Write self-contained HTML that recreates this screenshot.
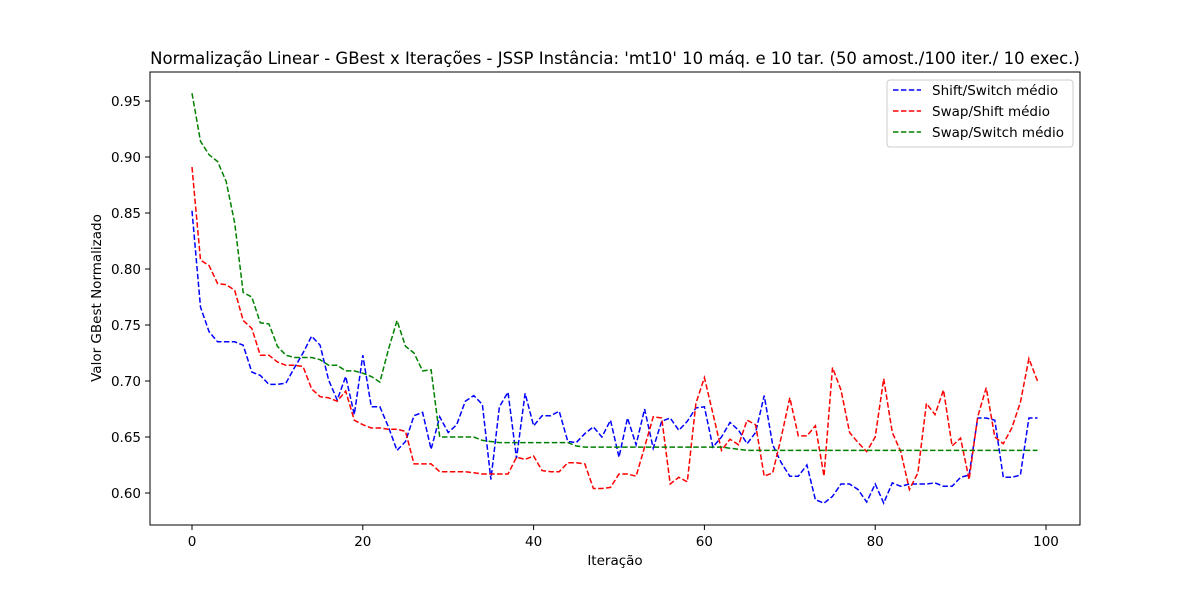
<!DOCTYPE html>
<html><head><meta charset="utf-8"><style>
html,body{margin:0;padding:0;background:#fff;}
svg text{font-family:"DejaVu Sans","Liberation Sans",sans-serif;fill:#000;}
</style></head><body>
<svg id="chart" width="1200" height="600" xmlns="http://www.w3.org/2000/svg">
<rect x="0" y="0" width="1200" height="600" fill="#fff"/>
<text x="615" y="64" font-size="16.5" text-anchor="middle">Normalização Linear - GBest x Iterações - JSSP Instância: 'mt10' 10 máq. e 10 tar. (50 amost./100 iter./ 10 exec.)</text>
<g id="xticks"></g>
<g id="yticks"></g>
<g id="series"></g>
<rect x="150" y="72" width="930" height="453" fill="none" stroke="#000" stroke-width="1"/>
<text x="615" y="565" font-size="13.5" text-anchor="middle">Iteração</text>
<text transform="translate(101,298) rotate(-90)" font-size="13.5" text-anchor="middle">Valor GBest Normalizado</text>
<g>
<rect x="887" y="80" width="186" height="67" rx="3" fill="#fff" stroke="#ccc"/>
<g><line x1="893" y1="90" x2="921" y2="90" stroke="blue" stroke-width="1.5" stroke-dasharray="5.5,2.4"/><text x="932" y="95" font-size="13.5">Shift/Switch médio</text></g>
<g><line x1="893" y1="111" x2="921" y2="111" stroke="red" stroke-width="1.5" stroke-dasharray="5.5,2.4"/><text x="932" y="116" font-size="13.5">Swap/Shift médio</text></g>
<g><line x1="893" y1="132" x2="921" y2="132" stroke="green" stroke-width="1.5" stroke-dasharray="5.5,2.4"/><text x="932" y="137" font-size="13.5">Swap/Switch médio</text></g>
</g>
</svg>
<script>
const xTicks=[0,20,40,60,80,100];
const yTicks=[0.60,0.65,0.70,0.75,0.80,0.85,0.90,0.95];
const shiftSwitch=[0.852,0.766,0.744,0.735,0.735,0.735,0.732,0.708,0.705,0.697,0.697,0.698,0.712,0.725,0.740,0.732,0.701,0.683,0.704,0.670,0.723,0.677,0.677,0.659,0.638,0.646,0.669,0.672,0.639,0.668,0.654,0.661,0.682,0.687,0.679,0.612,0.677,0.690,0.631,0.689,0.660,0.669,0.669,0.673,0.646,0.645,0.653,0.659,0.650,0.665,0.632,0.667,0.643,0.675,0.640,0.664,0.667,0.656,0.664,0.676,0.677,0.641,0.650,0.663,0.656,0.644,0.654,0.687,0.643,0.627,0.615,0.615,0.625,0.594,0.591,0.597,0.608,0.608,0.603,0.592,0.608,0.591,0.609,0.606,0.608,0.608,0.608,0.609,0.606,0.606,0.614,0.616,0.667,0.667,0.665,0.614,0.614,0.616,0.667,0.667];
const swapShift=[0.891,0.808,0.803,0.787,0.786,0.781,0.754,0.747,0.723,0.723,0.717,0.714,0.714,0.713,0.693,0.686,0.685,0.682,0.691,0.665,0.661,0.658,0.658,0.657,0.657,0.655,0.626,0.626,0.626,0.619,0.619,0.619,0.619,0.618,0.617,0.617,0.617,0.617,0.632,0.630,0.633,0.620,0.619,0.619,0.627,0.627,0.626,0.604,0.604,0.605,0.617,0.617,0.615,0.641,0.668,0.667,0.608,0.614,0.610,0.680,0.703,0.671,0.638,0.648,0.643,0.665,0.661,0.615,0.618,0.650,0.685,0.651,0.651,0.660,0.615,0.712,0.692,0.654,0.645,0.637,0.650,0.702,0.654,0.637,0.603,0.618,0.680,0.670,0.692,0.642,0.649,0.612,0.668,0.694,0.650,0.644,0.658,0.681,0.720,0.700];
const swapSwitch=[0.957,0.914,0.902,0.896,0.878,0.841,0.779,0.775,0.752,0.751,0.731,0.723,0.721,0.721,0.721,0.719,0.714,0.714,0.709,0.709,0.707,0.704,0.699,0.728,0.754,0.731,0.725,0.709,0.710,0.650,0.650,0.650,0.650,0.650,0.647,0.646,0.645,0.645,0.645,0.645,0.645,0.645,0.645,0.645,0.645,0.642,0.641,0.641,0.641,0.641,0.641,0.641,0.641,0.641,0.641,0.641,0.641,0.641,0.641,0.641,0.641,0.641,0.641,0.640,0.639,0.638,0.638,0.638,0.638,0.638,0.638,0.638,0.638,0.638,0.638,0.638,0.638,0.638,0.638,0.638,0.638,0.638,0.638,0.638,0.638,0.638,0.638,0.638,0.638,0.638,0.638,0.638,0.638,0.638,0.638,0.638,0.638,0.638,0.638,0.638];
const NS='http://www.w3.org/2000/svg';
function xS(i){return 192+i*8.54;}
function yS(v){return 493-(v-0.6)*1120;}
function mk(tag,attrs,parent){const e=document.createElementNS(NS,tag);for(const k in attrs)e.setAttribute(k,attrs[k]);parent.appendChild(e);return e;}
const gx=document.getElementById('xticks');
xTicks.forEach(t=>{
  const l=mk('line',{x1:xS(t),x2:xS(t),y1:525,y2:530,stroke:'#000'},gx);
  
  
  const tx=mk('text',{x:xS(t),y:546,'font-size':13.5,'text-anchor':'middle'},gx);
  tx.textContent=t;
  
  
});
const gy=document.getElementById('yticks');
yTicks.forEach(t=>{
  const l=mk('line',{x1:145,x2:150,y1:yS(t),y2:yS(t),stroke:'#000'},gy);
  
  
  const tx=mk('text',{x:141,y:yS(t)+5,'font-size':13.5,'text-anchor':'end'},gy);
  tx.textContent=t.toFixed(2);
  
  
});
const gs=document.getElementById('series');
[[shiftSwitch,'blue','line-shift-switch'],[swapShift,'red','line-swap-shift'],[swapSwitch,'green','line-swap-switch']].forEach(s=>{
  const pts=s[0].map((v,i)=>xS(i).toFixed(1)+','+yS(v).toFixed(1)).join(' ');
  const p=mk('polyline',{points:pts,fill:'none',stroke:s[1],'stroke-width':1.5,'stroke-dasharray':'5.5,2.4'},gs);
  
  
});
</script>
</body></html>
